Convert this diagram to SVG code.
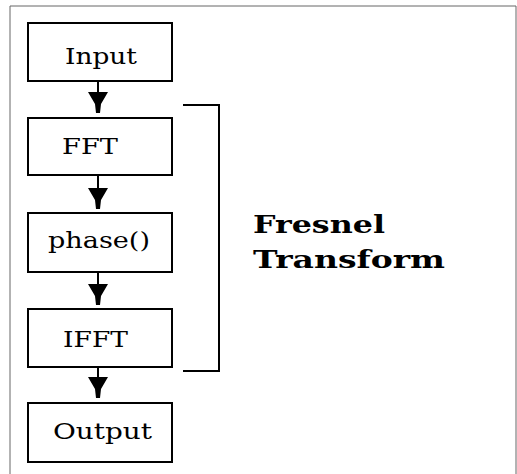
<svg xmlns="http://www.w3.org/2000/svg" width="517" height="474" viewBox="0 0 517 474">
<style>
.box{fill:#fff;stroke:#000;stroke-width:2}
.lbl{font-family:"DejaVu Serif","Liberation Serif",serif;font-size:23px;fill:#000;text-anchor:start}
.big{font-family:"DejaVu Serif","Liberation Serif",serif;font-size:24px;font-weight:bold;fill:#000}
.ln{stroke:#000;stroke-width:2;fill:none}
.frame{stroke:#666;stroke-width:1;fill:none}
</style>
<defs>
<polygon id="head" points="-10,0 10,0 3,12 2,21 -2,21 -3,12"/>
</defs>
<rect width="517" height="474" fill="#fff"/>
<path class="frame" d="M10,474 V6 H516 V474"/>
<g id="connectors">
<line class="ln" x1="98" y1="81" x2="98" y2="93"/>
<use href="#head" x="98" y="92"/>
<line class="ln" x1="98" y1="175" x2="98" y2="189"/>
<use href="#head" x="98" y="188"/>
<line class="ln" x1="98" y1="272" x2="98" y2="286"/>
<use href="#head" x="98" y="284"/>
<line class="ln" x1="98" y1="367" x2="98" y2="378"/>
<use href="#head" x="98" y="377"/>
<path class="ln" d="M183,105 H219 V371 H183"/>
</g>
<g id="input"><rect class="box" x="28" y="23" width="144" height="58"/><text class="lbl" x="65" y="64" textLength="72" lengthAdjust="spacingAndGlyphs">Input</text></g>
<g id="fft"><rect class="box" x="28" y="118" width="144" height="57"/><text class="lbl" x="62" y="154" textLength="56" lengthAdjust="spacingAndGlyphs">FFT</text></g>
<g id="phase"><rect class="box" x="28" y="213" width="144" height="59"/><text class="lbl" x="48" y="248" textLength="102" lengthAdjust="spacingAndGlyphs">phase()</text></g>
<g id="ifft"><rect class="box" x="28" y="309" width="144" height="58"/><text class="lbl" x="63" y="347" textLength="65" lengthAdjust="spacingAndGlyphs">IFFT</text></g>
<g id="output"><rect class="box" x="28" y="403" width="144" height="59"/><text class="lbl" x="53" y="439" textLength="99" lengthAdjust="spacingAndGlyphs">Output</text></g>
<g id="fresnel"><text class="big" x="253" y="233" textLength="132" lengthAdjust="spacingAndGlyphs">Fresnel</text><text class="big" x="253" y="268" textLength="192" lengthAdjust="spacingAndGlyphs">Transform</text></g>
</svg>
